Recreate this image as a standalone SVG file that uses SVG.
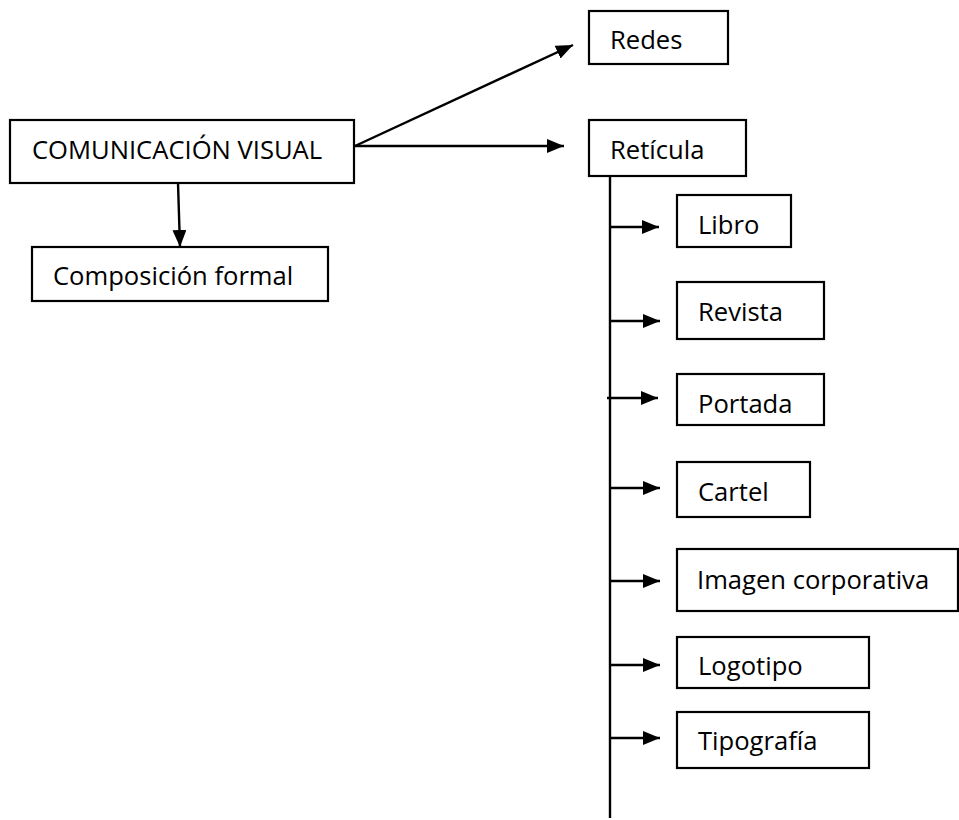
<svg xmlns="http://www.w3.org/2000/svg" width="959" height="820" viewBox="0 0 959 820">
<style>
.box{fill:#fff;stroke:#000;stroke-width:2.2}
.t{font-family:"Open Sans","Liberation Sans",sans-serif;font-size:25.6px;fill:#000}
.c{stroke:#000;stroke-width:2.4;fill:none}
</style>
<defs>
<marker id="ah" markerUnits="userSpaceOnUse" markerWidth="17" markerHeight="14" refX="17" refY="7" orient="auto">
<path d="M0,0 L17,7 L0,14 z" fill="#000"/>
</marker>
</defs>
<rect width="959" height="820" fill="#fff"/>
<g id="connectors">
<line class="c" x1="178" y1="183" x2="180" y2="247" marker-end="url(#ah)"/>
<line class="c" x1="355" y1="146" x2="573" y2="45" marker-end="url(#ah)"/>
<line class="c" x1="355" y1="146" x2="564" y2="146" marker-end="url(#ah)"/>
<line class="c" x1="610" y1="176" x2="610" y2="818"/>
<line class="c" x1="610" y1="227" x2="659" y2="227" marker-end="url(#ah)"/>
<line class="c" x1="610" y1="321" x2="660" y2="321" marker-end="url(#ah)"/>
<line class="c" x1="607" y1="398" x2="658" y2="398" marker-end="url(#ah)"/>
<line class="c" x1="610" y1="488" x2="660" y2="488" marker-end="url(#ah)"/>
<line class="c" x1="610" y1="581" x2="660" y2="581" marker-end="url(#ah)"/>
<line class="c" x1="610" y1="665" x2="660" y2="665" marker-end="url(#ah)"/>
<line class="c" x1="610" y1="738" x2="660" y2="738" marker-end="url(#ah)"/>
</g>
<g id="comunicacion">
<rect class="box" x="10" y="120" width="344" height="63"/>
<text class="t" x="32" y="159">COMUNICACIÓN VISUAL</text>
</g>
<g id="composicion">
<rect class="box" x="32" y="247" width="296" height="54"/>
<text class="t" x="53" y="285">Composición formal</text>
</g>
<g id="redes">
<rect class="box" x="589" y="11" width="139" height="53"/>
<text class="t" x="610" y="49">Redes</text>
</g>
<g id="reticula">
<rect class="box" x="589" y="120" width="157" height="56"/>
<text class="t" x="610" y="159">Retícula</text>
</g>
<g id="libro">
<rect class="box" x="677" y="195" width="114" height="52"/>
<text class="t" x="698" y="234">Libro</text>
</g>
<g id="revista">
<rect class="box" x="677" y="282" width="147" height="57"/>
<text class="t" x="698" y="321">Revista</text>
</g>
<g id="portada">
<rect class="box" x="677" y="374" width="147" height="51"/>
<text class="t" x="698" y="413">Portada</text>
</g>
<g id="cartel">
<rect class="box" x="677" y="462" width="133" height="55"/>
<text class="t" x="698" y="501">Cartel</text>
</g>
<g id="imagen">
<rect class="box" x="677" y="549" width="281" height="62"/>
<text class="t" x="697" y="589">Imagen corporativa</text>
</g>
<g id="logotipo">
<rect class="box" x="677" y="637" width="192" height="51"/>
<text class="t" x="698" y="675">Logotipo</text>
</g>
<g id="tipografia">
<rect class="box" x="677" y="712" width="192" height="56"/>
<text class="t" x="698" y="750">Tipografía</text>
</g>
</svg>
